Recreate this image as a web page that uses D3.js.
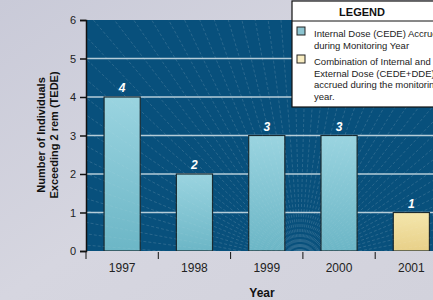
<!DOCTYPE html>
<html>
<head>
<style>
  body { margin: 0; overflow: hidden; }
  text { font-family: "Liberation Sans", Arial, sans-serif; }
</style>
</head>
<body>
<svg width="433" height="300"></svg>
<script src="https://cdn.jsdelivr.net/npm/d3@7"></script>
<script>
// data
var years = ["1997", "1998", "1999", "2000", "2001"];
var counts = [4, 2, 3, 3, 1];
var kinds = ["int", "int", "int", "int", "comb"];
var yTicks = [0, 1, 2, 3, 4, 5, 6];
var legendLabels = [
  ["Internal Dose (CEDE) Accrued", "during Monitoring Year"],
  ["Combination of Internal and", "External Dose (CEDE+DDE)", "accrued during the monitoring", "year."]
];

var svg = d3.select("svg"),
    plotL = 86, plotT = 20, plotB = 251,
    band = 72.3;

var x = d3.scaleBand().domain(years).range([plotL, plotL + band * years.length]);
var y = d3.scaleLinear().domain([0, 6]).range([plotB, plotT]);

var defs = svg.append("defs");
var bg = defs.append("linearGradient").attr("id", "bg").attr("x1", 0).attr("y1", 0).attr("x2", 1).attr("y2", 1);
bg.append("stop").attr("offset", 0).attr("stop-color", "#c9cad8");
bg.append("stop").attr("offset", 0.5).attr("stop-color", "#d6d6e0");
bg.append("stop").attr("offset", 1).attr("stop-color", "#d2d2dc");

var gInt = defs.append("linearGradient").attr("id", "gInt").attr("x1", 0).attr("y1", 0).attr("x2", 0).attr("y2", 1);
gInt.append("stop").attr("offset", 0).attr("stop-color", "#9ad4e0");
gInt.append("stop").attr("offset", 1).attr("stop-color", "#6cb6c6");
var gComb = defs.append("linearGradient").attr("id", "gComb").attr("x1", 0).attr("y1", 0).attr("x2", 0).attr("y2", 1);
gComb.append("stop").attr("offset", 0).attr("stop-color", "#f4e6ac");
gComb.append("stop").attr("offset", 1).attr("stop-color", "#e8d088");

defs.append("clipPath").attr("id", "plotclip")
  .append("rect").attr("x", plotL).attr("y", plotT).attr("width", 433 - plotL).attr("height", plotB - plotT);

svg.append("rect").attr("width", 433).attr("height", 300).attr("fill", "url(#bg)");

// plot area
svg.append("rect").attr("x", plotL).attr("y", plotT).attr("width", 433 - plotL).attr("height", plotB - plotT)
  .attr("fill", "#08507c");

var plot = svg.append("g").attr("clip-path", "url(#plotclip)");

// radiating lines
function drawRays(op) {
  var g = plot.append("g").attr("opacity", op);
  for (var i = 0; i < 60; i++) {
    var a = Math.PI * (i + 0.5) / 60;
    g.append("line")
      .attr("x1", 300).attr("y1", 262)
      .attr("x2", 300 - Math.cos(a) * 500).attr("y2", 262 - Math.sin(a) * 500)
      .attr("stroke", "#ffffff").attr("stroke-width", 0.5)
      .attr("stroke-dasharray", "3,2");
  }
}
drawRays(0.16);

// gridlines
plot.selectAll(".grid").data(yTicks.slice(1, 6)).enter().append("line")
  .attr("x1", plotL).attr("x2", 433)
  .attr("y1", function(d) { return y(d); }).attr("y2", function(d) { return y(d); })
  .attr("stroke", "#b4ccd8").attr("stroke-width", 1.5);

// bars
var bw = x.bandwidth() * 0.5;
plot.selectAll(".bar").data(years).enter().append("rect")
  .attr("x", function(d) { return x(d) + x.bandwidth() / 2 - bw / 2; })
  .attr("y", function(d, i) { return y(counts[i]); })
  .attr("width", bw)
  .attr("height", function(d, i) { return plotB - y(counts[i]); })
  .attr("fill", function(d, i) { return kinds[i] == "int" ? "url(#gInt)" : "url(#gComb)"; })
  .attr("stroke", "#1a2a30").attr("stroke-width", 1.2);

drawRays(0.12);

// value labels
svg.selectAll(".val").data(years).enter().append("text")
  .attr("x", function(d) { return x(d) + x.bandwidth() / 2; })
  .attr("y", function(d, i) { return y(counts[i]) - 5; })
  .attr("text-anchor", "middle")
  .attr("fill", "#ffffff").attr("font-size", 12).attr("font-weight", "bold").attr("font-style", "italic")
  .text(function(d, i) { return counts[i]; });

// y axis
var yAxis = svg.append("g").attr("transform", "translate(" + plotL + ",0)")
  .call(d3.axisLeft(y).tickValues(yTicks).tickFormat(d3.format("d")).tickSize(6).tickPadding(4));
yAxis.select(".domain").attr("stroke", "#111").attr("stroke-width", 1.5);
yAxis.selectAll(".tick line").attr("stroke", "#111").attr("stroke-width", 1.5);
yAxis.selectAll(".tick text").attr("font-size", 11).attr("fill", "#222")
  .attr("font-family", "Liberation Sans, Arial, sans-serif");

// x axis
var xAxis = svg.append("g").attr("transform", "translate(0," + plotB + ")");
xAxis.selectAll(".xt").data(years).enter().append("line")
  .attr("x1", function(d) { return x(d); }).attr("x2", function(d) { return x(d); })
  .attr("y1", 1).attr("y2", 8).attr("stroke", "#111").attr("stroke-width", 1);
xAxis.selectAll(".xl").data(years).enter().append("text")
  .attr("x", function(d) { return x(d) + x.bandwidth() / 2; })
  .attr("y", 21)
  .attr("text-anchor", "middle").attr("font-size", 12).attr("fill", "#222")
  .text(function(d) { return d; });

svg.append("text").attr("x", 262).attr("y", 297).attr("text-anchor", "middle")
  .attr("font-size", 12).attr("font-weight", "bold").attr("fill", "#111").text("Year");

var yt = svg.append("text").attr("transform", "translate(48,135) rotate(-90)")
  .attr("text-anchor", "middle").attr("font-size", 11).attr("font-weight", "bold").attr("fill", "#111");
yt.append("tspan").attr("x", 0).attr("dy", "-0.25em").text("Number of Individuals");
yt.append("tspan").attr("x", 0).attr("dy", "1.2em").text("Exceeding 2 rem (TEDE)");

// legend
var lg = svg.append("g").attr("transform", "translate(292,1)");
lg.append("rect").attr("width", 160).attr("height", 106).attr("fill", "#ffffff").attr("stroke", "#111").attr("stroke-width", 1.2);
lg.append("line").attr("x1", 0).attr("x2", 160).attr("y1", 20).attr("y2", 20).attr("stroke", "#111").attr("stroke-width", 1);
lg.append("text").attr("x", 70).attr("y", 15).attr("text-anchor", "middle")
  .attr("font-size", 11).attr("font-weight", "bold").attr("fill", "#111").text("LEGEND");
var swatch = ["#8cc4d0", "#f8ecc0"];
var rowY = [26, 54];
legendLabels.forEach(function(lines, i) {
  lg.append("rect").attr("x", 5).attr("y", rowY[i]).attr("width", 8).attr("height", 8)
    .attr("fill", swatch[i]).attr("stroke", "#222").attr("stroke-width", 1);
  lg.selectAll(".l" + i).data(lines).enter().append("text")
    .attr("x", 22).attr("y", function(d, j) { return rowY[i] + 10 + j * 11.5; })
    .attr("font-size", 9.5).attr("fill", "#222").text(function(d) { return d; });
});
</script>
</body>
</html>
